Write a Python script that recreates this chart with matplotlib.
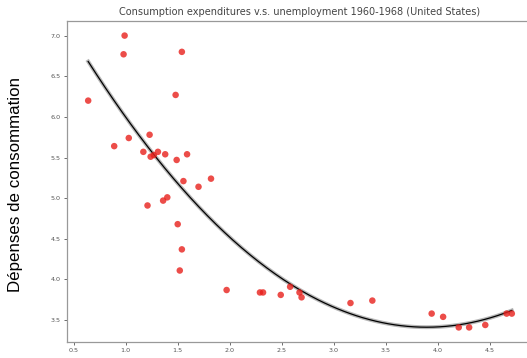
import numpy as np
import matplotlib
matplotlib.use("Agg")
import matplotlib.pyplot as plt

# unemployment rate (%) and consumption expenditure growth, 1960-1968
unemployment = [0.64, 0.89, 0.98, 0.99, 1.03, 1.17, 1.21, 1.23, 1.24, 1.27,
                1.31, 1.36, 1.38, 1.40, 1.48, 1.49, 1.50, 1.52, 1.54, 1.54,
                1.555, 1.59, 1.70, 1.82, 1.97, 2.29, 2.32, 2.49, 2.58, 2.67,
                2.69, 3.16, 3.37, 3.94, 4.05, 4.20, 4.30, 4.455, 4.66, 4.71]
consumption = [6.20, 5.64, 6.77, 7.00, 5.74, 5.57, 4.91, 5.78, 5.51, 5.53,
               5.57, 4.97, 5.54, 5.01, 6.27, 5.47, 4.68, 4.11, 4.37, 6.80,
               5.21, 5.54, 5.14, 5.24, 3.87, 3.84, 3.84, 3.81, 3.91, 3.84,
               3.78, 3.71, 3.74, 3.58, 3.54, 3.41, 3.41, 3.44, 3.58, 3.58]

x_ticks = [0.5, 1.0, 1.5, 2.0, 2.5, 3.0, 3.5, 4.0, 4.5]
y_ticks = [3.5, 4.0, 4.5, 5.0, 5.5, 6.0, 6.5, 7.0]

W, H = 527, 358
fig = plt.figure(figsize=(W / 100, H / 100), dpi=100)
ax = fig.add_axes([67 / W, 1 - 342 / H, (533 - 67) / W, (342 - 21) / H])

ax.scatter(unemployment, consumption, s=22, color="#e8201c", alpha=0.8,
           edgecolors="none", zorder=3)

# second degree polynomial fit
coef = np.polyfit(unemployment, consumption, 2)
xs = np.linspace(min(unemployment), max(unemployment), 200)
ys = np.polyval(coef, xs)
ax.plot(xs, ys, color="#888888", lw=2.8, alpha=0.6, zorder=2)
ax.plot(xs, ys, color="black", lw=0.9, zorder=2)

ax.set_xticks(x_ticks)
ax.set_yticks(y_ticks)
ax.tick_params(labelsize=4.6, colors="#555555", length=2.5, width=0.6, pad=2)
for s in ax.spines.values():
    s.set_color("#999999")
    s.set_linewidth(0.9)

ax.set_title("Consumption expenditures v.s. unemployment 1960-1968 (United States)",
             fontsize=7.0, color="#444444", pad=4)
ax.set_ylabel("Dépenses de consommation", fontsize=12.2,
              family=["Liberation Sans", "DejaVu Sans"])
ax.yaxis.set_label_coords(-44 / (533 - 67), 0.49)

fig.savefig("out.png", dpi=100)
